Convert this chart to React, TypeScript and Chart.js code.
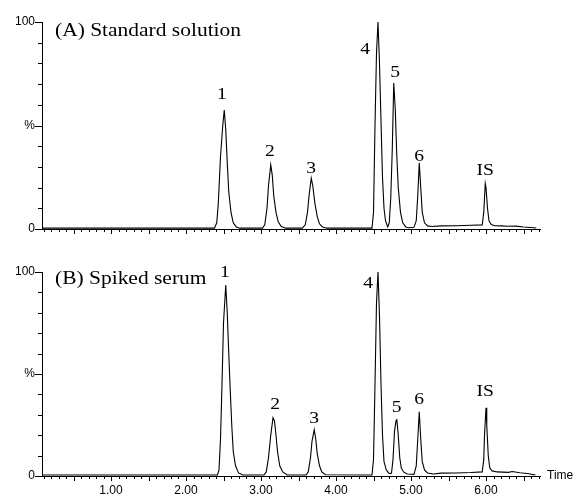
import React, { useEffect, useRef } from 'react';
import { Chart, registerables } from 'chart.js';
Chart.register(...registerables);

// ---- Data (time in min, relative intensity in %) ----
const TIME_A = [0.08, 0.5, 1.0, 1.5, 2.0, 2.38, 2.41, 2.43, 2.46, 2.49, 2.51, 2.53, 2.55, 2.57, 2.6, 2.63, 2.67, 2.72,
  3.02, 3.05, 3.08, 3.1, 3.13, 3.15, 3.17, 3.2, 3.23, 3.27, 3.33,
  3.55, 3.59, 3.62, 3.64, 3.67, 3.69, 3.72, 3.75, 3.78, 3.82, 3.88,
  4.48, 4.5, 4.52, 4.54, 4.56, 4.58, 4.6, 4.62, 4.64, 4.66,
  4.69, 4.71, 4.73, 4.75, 4.77, 4.79, 4.81, 4.83, 4.86, 4.89, 4.93, 4.97,
  5.04, 5.07, 5.09, 5.11, 5.13, 5.15, 5.18, 5.22, 5.28,
  5.4, 5.6, 5.8, 5.95, 5.97, 5.99, 6.0, 6.02, 6.04, 6.07, 6.12, 6.2, 6.3, 6.4, 6.5, 6.6, 6.67];
const INTENSITY_A = [0.4, 0.4, 0.4, 0.4, 0.4, 0.4, 3, 12, 35, 50, 57.5, 48, 32, 18, 8, 3, 1, 0.4,
  0.4, 2, 10, 21, 31, 26, 16, 8, 3.5, 1.2, 0.4,
  0.4, 2, 8, 16, 24.6, 21, 12, 6, 2.5, 1, 0.4,
  0.4, 8, 50, 85, 100, 80, 52, 25, 10, 4,
  1, 3, 15, 38, 70.5, 58, 36, 20, 8, 3, 1, 0.6,
  0.8, 4, 16, 32, 20, 8, 3, 1.5, 1.2,
  1.5, 1.6, 1.8, 2, 8, 22, 20, 10, 4, 2.2, 1.6, 1.5, 1.3, 1.4, 1, 0.7, 0.5];

const TIME_B = [0.08, 0.5, 1.0, 1.5, 2.0, 2.42, 2.44, 2.46, 2.48, 2.5, 2.53, 2.55, 2.57, 2.59, 2.61, 2.63, 2.66, 2.7, 2.76,
  3.04, 3.07, 3.1, 3.13, 3.16, 3.18, 3.2, 3.22, 3.25, 3.29, 3.35,
  3.6, 3.63, 3.66, 3.68, 3.71, 3.73, 3.75, 3.78, 3.81, 3.86,
  4.48, 4.5, 4.52, 4.54, 4.56, 4.58, 4.6, 4.62, 4.64, 4.67, 4.7, 4.73,
  4.74, 4.76, 4.78, 4.8, 4.81, 4.83, 4.85, 4.87, 4.9, 4.95,
  5.04, 5.07, 5.09, 5.11, 5.13, 5.15, 5.18, 5.22, 5.3,
  5.4, 5.6, 5.8, 5.95, 5.97, 5.98, 6.0, 6.01, 6.03, 6.05, 6.08, 6.15, 6.3, 6.35, 6.45, 6.55, 6.66];
const INTENSITY_B = [0.5, 0.5, 0.5, 0.5, 0.5, 0.5, 3, 18, 45, 75, 93.6, 80, 60, 42, 25, 12, 5, 1.5, 0.5,
  0.5, 2, 9, 20, 28.6, 27, 20, 12, 5, 2, 0.5,
  0.5, 2, 9, 17, 22.7, 18, 11, 5, 2, 0.6,
  0.5, 8, 45, 85, 100, 78, 45, 20, 7, 3, 1.5, 1.2,
  1.5, 8, 22, 27, 28, 20, 9, 4, 2, 1,
  0.8, 5, 18, 31.5, 18, 7, 3, 1.5, 1,
  1.4, 1.5, 1.7, 2, 8, 20, 33.5, 25, 10, 4, 2.5, 2, 1.8, 2.2, 1.6, 1.2, 0.5];

const PEAK_NAMES = ['1', '2', '3', '4', '5', '6', 'IS'];
const LABEL_TIME_A = [2.48, 3.12, 3.67, 4.39, 4.79, 5.11, 5.99];
const LABEL_LEVEL_A = [62.8, 35.3, 27.1, 84.5, 73.4, 32.9, 26.1];
const LABEL_TIME_B = [2.52, 3.19, 3.71, 4.43, 4.81, 5.11, 5.99];
const LABEL_LEVEL_B = [97.5, 32.8, 26.0, 92.2, 31.4, 35.3, 39.2];

const TITLE_A = '(A) Standard solution';
const TITLE_B = '(B) Spiked serum';

const X_TICK_VALUES = [1, 2, 3, 4, 5, 6];
const X_TICK_LABELS = ['1.00', '2.00', '3.00', '4.00', '5.00', '6.00'];
const Y_TICK_VALUES = [0, 50, 100];
const Y_TICK_LABELS = ['0', '%', '100'];
const X_AXIS_TITLE = 'Time';

const X_MIN = 0.08;
const X_MAX = 6.72;

const SERIF = '"Liberation Serif", "Times New Roman", serif';
const SANS = '"Liberation Sans", Arial, sans-serif';

type PanelCfg = {
  times: number[];
  values: number[];
  labelTimes: number[];
  labelLevels: number[];
  title: string;
  titleBaseline: number;
  showXLabels: boolean;
  height: number;
};

function makeDecor(cfg: PanelCfg) {
  return {
    id: 'decor',
    afterDraw(chart: any) {
      const ctx = chart.ctx as CanvasRenderingContext2D;
      const xs = chart.scales.x;
      const ys = chart.scales.y;
      const { left, bottom, right } = chart.chartArea;
      ctx.save();
      ctx.strokeStyle = '#000';
      ctx.lineWidth = 1;
      ctx.beginPath();
      for (let i = 1; i <= 67; i++) {
        const v = i / 10;
        if (v < X_MIN || v > X_MAX) continue;
        const px = Math.round(xs.getPixelForValue(v)) + 0.5;
        const len = i % 5 === 0 ? 5 : 3;
        ctx.moveTo(px, Math.round(bottom));
        ctx.lineTo(px, Math.round(bottom) + len);
      }
      for (let i = 0; i <= 10; i++) {
        const py = Math.round(ys.getPixelForValue(i * 10)) + 0.5;
        const len = i % 5 === 0 ? 7 : 4;
        ctx.moveTo(Math.round(left), py);
        ctx.lineTo(Math.round(left) - len, py);
      }
      ctx.stroke();

      ctx.fillStyle = '#000';
      ctx.textAlign = 'center';
      ctx.textBaseline = 'alphabetic';
      ctx.font = '17px ' + SERIF;
      PEAK_NAMES.forEach((n, i) => {
        const px = xs.getPixelForValue(cfg.labelTimes[i]);
        const py = ys.getPixelForValue(cfg.labelLevels[i]);
        ctx.save();
        ctx.translate(px, py);
        ctx.scale(1.15, 1);
        ctx.fillText(n, 0, 0);
        ctx.restore();
      });

      ctx.textAlign = 'left';
      ctx.font = '19px ' + SERIF;
      ctx.save();
      ctx.translate(left + 13, cfg.titleBaseline);
      ctx.scale(1.13, 1);
      ctx.fillText(cfg.title, 0, 0);
      ctx.restore();

      if (cfg.showXLabels) {
        ctx.font = '12px ' + SANS;
        ctx.textBaseline = 'middle';
        ctx.fillText(X_AXIS_TITLE, right + 7, bottom);
      }
      ctx.restore();
    },
  };
}

function Panel({ cfg }: { cfg: PanelCfg }) {
  const ref = useRef<HTMLCanvasElement | null>(null);
  useEffect(() => {
    if (!ref.current) return;
    const data = cfg.times.map((t, i) => ({ x: t, y: cfg.values[i] }));
    const chart = new Chart(ref.current, {
      type: 'line',
      data: {
        datasets: [
          {
            data,
            borderColor: '#000',
            borderWidth: 1.1,
            pointRadius: 0,
            tension: 0,
            fill: false,
          },
        ],
      },
      options: {
        animation: false,
        responsive: false,
        maintainAspectRatio: false,
        events: [],
        layout: { padding: { top: 22, right: 33, left: 0, bottom: 0 } },
        plugins: { legend: { display: false }, tooltip: { enabled: false }, title: { display: false } },
        scales: {
          x: {
            type: 'linear',
            min: X_MIN,
            max: X_MAX,
            grid: { display: false, drawTicks: false, tickLength: 0 },
            border: { display: true, color: '#000', width: 1 },
            afterBuildTicks: (s: any) => {
              s.ticks = X_TICK_VALUES.map((v) => ({ value: v }));
            },
            afterFit: (s: any) => {
              s.height = 21;
            },
            ticks: {
              display: cfg.showXLabels,
              autoSkip: false,
              maxRotation: 0,
              padding: 7,
              color: '#000',
              font: { family: SANS, size: 12 },
              callback: (v: any) => {
                const idx = X_TICK_VALUES.indexOf(Number(v));
                return idx >= 0 ? X_TICK_LABELS[idx] : '';
              },
            },
          },
          y: {
            type: 'linear',
            min: 0,
            max: 100,
            grid: { display: false, drawTicks: false, tickLength: 0 },
            border: { display: true, color: '#000', width: 1 },
            afterBuildTicks: (s: any) => {
              s.ticks = Y_TICK_VALUES.map((v) => ({ value: v }));
            },
            afterFit: (s: any) => {
              s.width = 42;
            },
            ticks: {
              padding: 7,
              color: '#000',
              font: { family: SANS, size: 12 },
              callback: (v: any) => {
                const idx = Y_TICK_VALUES.indexOf(Number(v));
                return idx >= 0 ? Y_TICK_LABELS[idx] : '';
              },
            },
          },
        },
      },
      plugins: [makeDecor(cfg)],
    });
    return () => chart.destroy();
  }, [cfg]);
  return <canvas ref={ref} width={573} height={cfg.height} style={{ display: 'block', width: 573, height: cfg.height }} />;
}

const PANEL_A: PanelCfg = {
  times: TIME_A,
  values: INTENSITY_A,
  labelTimes: LABEL_TIME_A,
  labelLevels: LABEL_LEVEL_A,
  title: TITLE_A,
  titleBaseline: 36,
  showXLabels: false,
  height: 250,
};
const PANEL_B: PanelCfg = {
  times: TIME_B,
  values: INTENSITY_B,
  labelTimes: LABEL_TIME_B,
  labelLevels: LABEL_LEVEL_B,
  title: TITLE_B,
  titleBaseline: 34,
  showXLabels: true,
  height: 247,
};

export default function App() {
  return (
    <div style={{ position: 'fixed', left: 0, top: 0, width: 573, height: 497, background: '#fff', overflow: 'hidden' }}>
      <div style={{ position: 'absolute', left: 0, top: 0 }}>
        <Panel cfg={PANEL_A} />
      </div>
      <div style={{ position: 'absolute', left: 0, top: 250 }}>
        <Panel cfg={PANEL_B} />
      </div>
    </div>
  );
}
